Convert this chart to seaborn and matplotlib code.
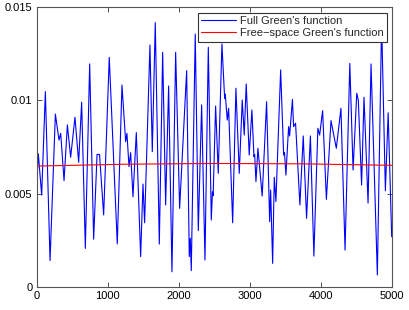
import matplotlib
matplotlib.use("Agg")
import matplotlib.pyplot as plt
import seaborn as sns
import pandas as pd
import numpy as np

# Full Green's function: extrema (sample index, value)
full_x = [0, 23, 70, 122, 188, 263, 314, 338, 385, 432, 478, 539, 591, 633, 685,
          746, 802, 850, 885, 943, 1022, 1135, 1201, 1253, 1271, 1300, 1323, 1356,
          1403, 1464, 1497, 1520, 1595, 1628, 1670, 1727, 1774, 1816, 1858, 1905,
          1957, 2013, 2112, 2149, 2163, 2177, 2233, 2276, 2323, 2370, 2417, 2459,
          2475, 2485, 2520, 2557, 2609, 2647, 2656, 2684, 2703, 2760, 2806, 2853,
          2895, 2923, 2951, 2993, 3031, 3060, 3070, 3088, 3116, 3176, 3238, 3281,
          3295, 3323, 3346, 3369, 3436, 3478, 3490, 3510, 3548, 3562, 3602, 3618,
          3646, 3707, 3754, 3801, 3855, 3904, 3960, 3985, 4027, 4080, 4145, 4220,
          4285, 4343, 4410, 4456, 4508, 4530, 4576, 4610, 4667, 4709, 4798, 4858,
          4911, 4950, 5000]
full_y = [0.0055, 0.00713, 0.00493, 0.01046, 0.00143, 0.00926, 0.00787, 0.00823,
          0.0057, 0.00868, 0.00695, 0.00909, 0.00668, 0.00989, 0.00208, 0.01194,
          0.00257, 0.0071, 0.0071, 0.00387, 0.01229, 0.00232, 0.01081, 0.00778,
          0.00823, 0.00645, 0.0072, 0.00484, 0.00827, 0.00164, 0.00552, 0.00345,
          0.01295, 0.00725, 0.01415, 0.00231, 0.01256, 0.0044, 0.01076, 0.00083,
          0.01256, 0.00422, 0.01158, 0.00164, 0.00262, 0.00089, 0.01354, 0.00303,
          0.00975, 0.00146, 0.01283, 0.0036, 0.0051, 0.0049, 0.00969, 0.00609,
          0.01301, 0.0101, 0.01033, 0.00894, 0.00957, 0.00345, 0.01064, 0.00609,
          0.01001, 0.00814, 0.01087, 0.00707, 0.00948, 0.00698, 0.0071, 0.00565,
          0.00743, 0.00488, 0.00992, 0.00351, 0.0052, 0.00128, 0.00588, 0.00458,
          0.01162, 0.00707, 0.0072, 0.006, 0.00859, 0.00809, 0.01005, 0.00859,
          0.00877, 0.0044, 0.00809, 0.00369, 0.00809, 0.00167, 0.0085, 0.00814,
          0.00944, 0.0047, 0.00891, 0.00743, 0.00957, 0.00199, 0.01197, 0.00627,
          0.01037, 0.0100, 0.00547, 0.01016, 0.0045, 0.01194, 0.00066, 0.0142,
          0.00516, 0.00933, 0.0027]

# Free-space Green's function: nearly flat
free_x = [0, 1250, 2500, 3750, 5000]
free_y = [0.00648, 0.00658, 0.00662, 0.00660, 0.00652]

x_ticks = [0, 1000, 2000, 3000, 4000, 5000]
y_ticks = [0, 0.005, 0.01, 0.015]
y_tick_labels = ["0", "0.005", "0.01", "0.015"]
labels = ["Full Green's function", "Free\u2212space Green's function"]

sns.set_style("white")
plt.rcParams['font.family'] = ['Liberation Sans', 'DejaVu Sans']

fig = plt.figure(figsize=(4.09, 3.10), dpi=100)
ax = fig.add_axes([36.7 / 409, 1 - 287.3 / 310, 355 / 409, 280.6 / 310])

df_full = pd.DataFrame({"x": full_x, "y": full_y})
df_free = pd.DataFrame({"x": free_x, "y": free_y})
sns.lineplot(data=df_full, x="x", y="y", ax=ax, color="#0000ff", lw=0.8,
             label=labels[0], estimator=None, sort=False)
sns.lineplot(data=df_free, x="x", y="y", ax=ax, color="#ff0000", lw=0.8,
             label=labels[1], estimator=None, sort=False)

ax.set_xlim(0, 5000)
ax.set_ylim(0, 0.015)
ax.set_xticks(x_ticks)
ax.set_xticklabels([str(t) for t in x_ticks])
ax.set_yticks(y_ticks)
ax.set_yticklabels(y_tick_labels)
ax.set_xlabel("")
ax.set_ylabel("")
ax.tick_params(direction="in", length=3.5, width=0.6, colors="#333333",
               labelcolor="black", labelsize=8, top=True, right=True,
               bottom=True, left=True, pad=3)
for s in ax.spines.values():
    s.set_visible(True)
    s.set_color("#555555")
    s.set_linewidth(0.8)

leg = ax.legend(loc="upper right", bbox_to_anchor=(0.986, 0.9786),
                borderaxespad=0, fontsize=8, frameon=True, fancybox=False,
                edgecolor="#333333", framealpha=1, handlelength=3.1,
                handletextpad=0.35, borderpad=0.3, labelspacing=0.2)
leg.get_frame().set_linewidth(0.8)

fig.savefig("out.png", dpi=100)
